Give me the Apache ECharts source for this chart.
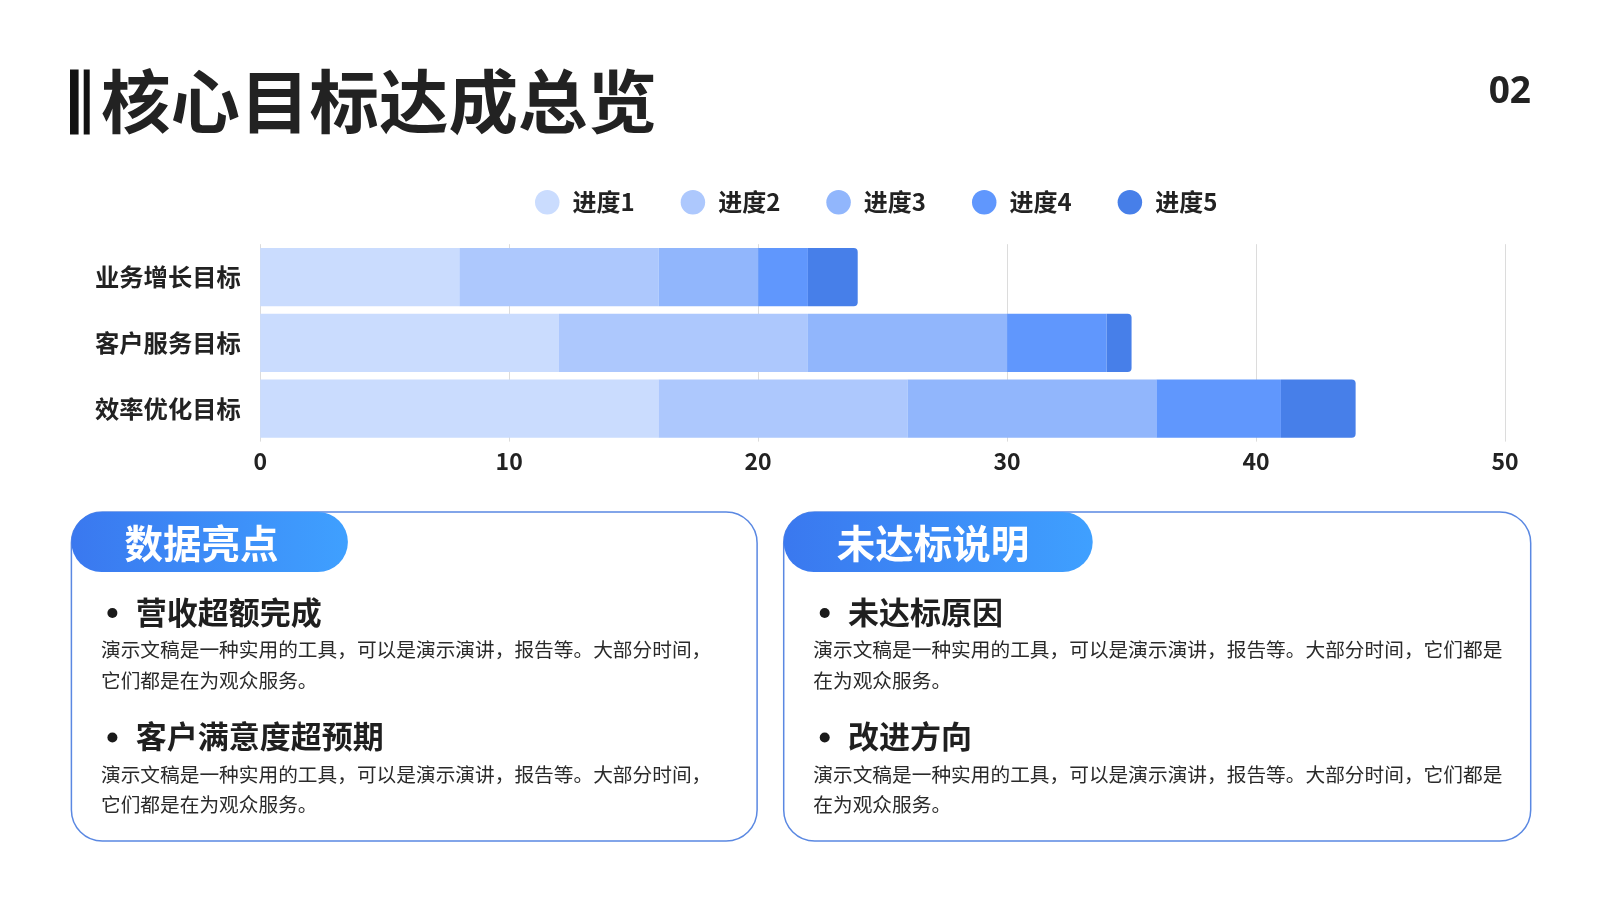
<!DOCTYPE html>
<html>
<head>
<meta charset="utf-8">
<script src="https://cdn.jsdelivr.net/npm/echarts@6/dist/echarts.min.js"></script>
<style>
html,body{margin:0;padding:0;background:#fff;}
#c{width:1600px;height:900px;}
</style>
</head>
<body>
<div id="c"></div>
<script>
const categories = ['业务增长目标', '客户服务目标', '效率优化目标'];
const seriesNames = ['进度1', '进度2', '进度3', '进度4', '进度5'];
const progress1 = [8, 12, 16];
const progress2 = [8, 10, 10];
const progress3 = [4, 8, 10];
const progress4 = [2, 4, 5];
const progress5 = [2, 1, 3];
const xTicks = [0, 10, 20, 30, 40, 50];
const colors = ['#cadcfe', '#adc8fd', '#91b6fc', '#6097fd', '#477fe9'];

const titleText = '核心目标达成总览';
const pageNo = '02';
const leftHeader = '数据亮点';
const rightHeader = '未达标说明';
const leftBullets = ['营收超额完成', '客户满意度超预期'];
const rightBullets = ['未达标原因', '改进方向'];
const leftBody = '演示文稿是一种实用的工具，可以是演示演讲，报告等。大部分时间，\n它们都是在为观众服务。';
const rightBody = '演示文稿是一种实用的工具，可以是演示演讲，报告等。大部分时间，它们都是\n在为观众服务。';

const FF = '"Noto Sans CJK SC", "Noto Sans", sans-serif';
const allData = [progress1, progress2, progress3, progress4, progress5];

const chart = echarts.init(document.getElementById('c'));

function box(x, w, header, headerW, bullets, body) {
  const top = 512;
  const els = [];
  els.push({type:'rect', shape:{x:x, y:top, width:w, height:329, r:31},
    style:{fill:'#fff', stroke:'#5a88e2', lineWidth:1.5}});
  els.push({type:'rect', shape:{x:x, y:top, width:headerW, height:60, r:30},
    style:{fill:new echarts.graphic.LinearGradient(0,0,1,0,[{offset:0,color:'#3a78ef'},{offset:1,color:'#3fa0ff'}])}});
  els.push({type:'text', style:{text:header, x:x+53, y:top+31, fill:'#fff', fontSize:38.5, fontWeight:'bold', fontFamily:FF, verticalAlign:'middle'}});
  const ys = [top+100, top+224.5];
  bullets.forEach((b, i) => {
    els.push({type:'circle', shape:{cx:x+41, cy:ys[i]+1, r:5}, style:{fill:'#1a1a1a'}});
    els.push({type:'text', style:{text:b, x:x+64.3, y:ys[i], fill:'#1f1f1f', fontSize:31, fontWeight:'bold', fontFamily:FF, verticalAlign:'middle'}});
    els.push({type:'text', style:{text:body, x:x+29.6, y:ys[i]+22.5, fill:'#2a2a2a', fontSize:19.7, lineHeight:30.6, fontFamily:FF, verticalAlign:'top'}});
  });
  return els;
}

const graphics = [
  {type:'rect', shape:{x:70, y:69.5, width:8.6, height:65}, style:{fill:'#111'}},
  {type:'rect', shape:{x:83.7, y:69.5, width:6, height:65}, style:{fill:'#111'}},
  {type:'text', style:{text:titleText, x:101, y:102, fill:'#222', fontSize:69.5, fontWeight:'bold', fontFamily:FF, verticalAlign:'middle'}},
  {type:'text', style:{text:pageNo, x:1531, y:92, fill:'#222', fontSize:37, fontWeight:'bold', fontFamily:'"Open Sans", "Noto Sans", sans-serif', align:'right', verticalAlign:'middle'}}
].concat(box(71.4, 685.7, leftHeader, 276.5, leftBullets, leftBody))
 .concat(box(783.7, 747, rightHeader, 309, rightBullets, rightBody));

const series = seriesNames.map((n, i) => ({
  name: n,
  type: 'bar',
  stack: 'total',
  barWidth: 58.2,
  data: allData[i],
  itemStyle: {color: colors[i], borderRadius: i === 4 ? [0, 4, 4, 0] : 0},
  emphasis: {disabled: true}
}));

chart.setOption({
  animation: false,
  color: colors,
  legend: {
    data: seriesNames,
    left: 530, top: 185,
    icon: 'circle',
    itemWidth: 24.5, itemHeight: 24.5,
    itemGap: 46,
    textStyle: {fontSize: 24, fontWeight: 'bold', color: '#222', fontFamily: FF, padding: [0,0,0,8]}
  },
  grid: {left: 260.2, right: 95, top: 244.2, height: 197.4, containLabel: false},
  xAxis: {
    type: 'value', min: 0, max: 50, interval: 10,
    axisLine: {show: false}, axisTick: {show: false},
    splitLine: {show: true, lineStyle: {color: '#dcdcdc', width: 1}},
    axisLabel: {fontSize: 23, fontWeight: 'bold', color: '#222', fontFamily: FF, margin: 8,
      formatter: v => xTicks.includes(v) ? String(v) : ''}
  },
  yAxis: {
    type: 'category', data: categories, inverse: true,
    axisLine: {show: false}, axisTick: {show: false},
    axisLabel: {fontSize: 24.3, fontWeight: 'bold', color: '#222', fontFamily: FF, margin: 19.4}
  },
  series: series,
  graphic: {elements: graphics}
});
</script>
</body>
</html>
